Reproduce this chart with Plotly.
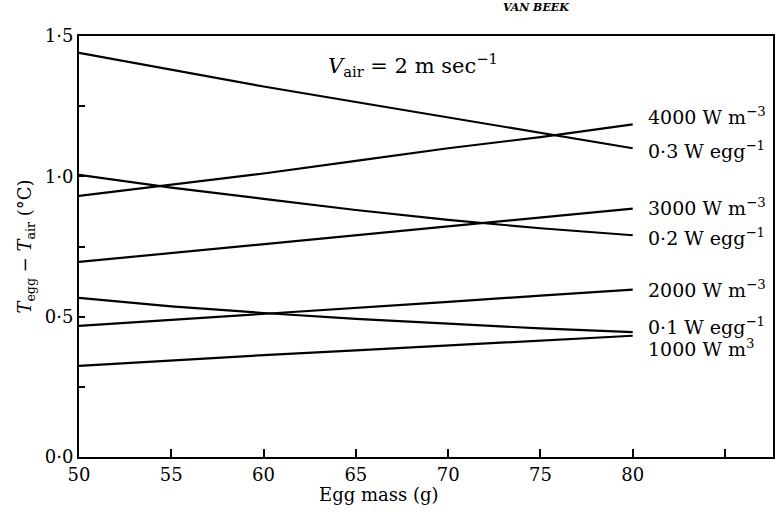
import plotly.graph_objects as go

# Egg mass (g)
egg_mass = [50, 55, 60, 65, 70, 75, 80]

# T_egg - T_air (°C) for each heat-production curve
s_03_w_egg = [1.44, 1.38, 1.32, 1.265, 1.21, 1.155, 1.10]
s_4000_w_m3 = [0.93, 0.97, 1.01, 1.055, 1.10, 1.14, 1.185]
s_02_w_egg = [1.005, 0.96, 0.92, 0.88, 0.845, 0.815, 0.79]
s_3000_w_m3 = [0.695, 0.727, 0.759, 0.79, 0.822, 0.853, 0.885]
s_2000_w_m3 = [0.467, 0.488, 0.510, 0.532, 0.553, 0.575, 0.596]
s_01_w_egg = [0.567, 0.537, 0.513, 0.492, 0.475, 0.458, 0.445]
s_1000_w_m3 = [0.325, 0.345, 0.363, 0.38, 0.397, 0.414, 0.432]

series = [
    ("4000 W m<sup>−3</sup>", s_4000_w_m3, 1.215),
    ("0·3 W egg<sup>−1</sup>", s_03_w_egg, 1.095),
    ("3000 W m<sup>−3</sup>", s_3000_w_m3, 0.89),
    ("0·2 W egg<sup>−1</sup>", s_02_w_egg, 0.785),
    ("2000 W m<sup>−3</sup>", s_2000_w_m3, 0.60),
    ("0·1 W egg<sup>−1</sup>", s_01_w_egg, 0.465),
    ("1000 W m<sup>3</sup>", s_1000_w_m3, 0.39),
]

x_ticks = [50, 55, 60, 65, 70, 75, 80]
x_ticktext = ["50", "55", "60", "65", "70", "75", "80"]
x_minor = [85]
y_ticks = [0, 0.5, 1.0, 1.5]
y_ticktext = ["0·0", "0·5", "1·0", "1·5"]
y_minor = [0.25, 0.75, 1.25]

FONT = "DejaVu Serif"

fig = go.Figure()
for name, vals, _ in series:
    fig.add_trace(go.Scatter(x=egg_mass, y=vals, mode="lines",
                             line=dict(color="black", width=2.2),
                             name=name, showlegend=False, hoverinfo="skip"))

for name, vals, ly in series:
    fig.add_annotation(x=80.7, y=ly, xref="x", yref="y", text=name,
                       showarrow=False, xanchor="left", yanchor="middle",
                       font=dict(family=FONT, size=19, color="black"))

fig.add_annotation(x=68.1, y=1.395, xref="x", yref="y",
                   text="<i>V</i><sub>air</sub> = 2 m sec<sup>−1</sup>",
                   showarrow=False, xanchor="center", yanchor="middle",
                   font=dict(family=FONT, size=21, color="black"))

fig.add_annotation(x=0.432, y=-0.09, xref="paper", yref="paper",
                   text="Egg mass (g)", showarrow=False,
                   xanchor="center", yanchor="middle",
                   font=dict(family=FONT, size=18, color="black"))

# running header of the scanned page (partly cut off in the scan)
fig.add_annotation(x=0.658, y=1.0, xref="paper", yref="paper",
                   yshift=20,
                   text="<b><i>VAN BEEK</i></b>", showarrow=False,
                   xanchor="center", yanchor="bottom",
                   font=dict(family=FONT, size=11, color="black"))

fig.update_layout(
    width=780, height=515,
    margin=dict(l=79, r=5, t=36, b=58),
    paper_bgcolor="white", plot_bgcolor="white",
    font=dict(family=FONT, color="black"),
    xaxis=dict(range=[50, 87.6], tickvals=x_ticks, ticktext=x_ticktext,
               ticks="inside", ticklen=8, tickwidth=1.5, tickcolor="black",
               minor=dict(tickvals=x_minor, ticks="inside", ticklen=8,
                          tickwidth=1.5, tickcolor="black", showgrid=False),
               showline=True, linecolor="black", linewidth=2, mirror=True,
               showgrid=False, zeroline=False,
               tickfont=dict(family=FONT, size=18, color="black")),
    yaxis=dict(range=[0, 1.5], tickvals=y_ticks, ticktext=y_ticktext,
               ticks="inside", ticklen=6, tickwidth=1.5, tickcolor="black",
               minor=dict(tickvals=y_minor, ticks="inside", ticklen=6,
                          tickwidth=1.5, tickcolor="black", showgrid=False),
               showline=True, linecolor="black", linewidth=2, mirror=True,
               showgrid=False, zeroline=False,
               tickfont=dict(family=FONT, size=18, color="black"),
               title=dict(text="<i>T</i><sub>egg</sub> − <i>T</i><sub>air</sub> (°C)",
                          font=dict(family=FONT, size=18, color="black"),
                          standoff=8)),
)

fig.write_html("out.html")
